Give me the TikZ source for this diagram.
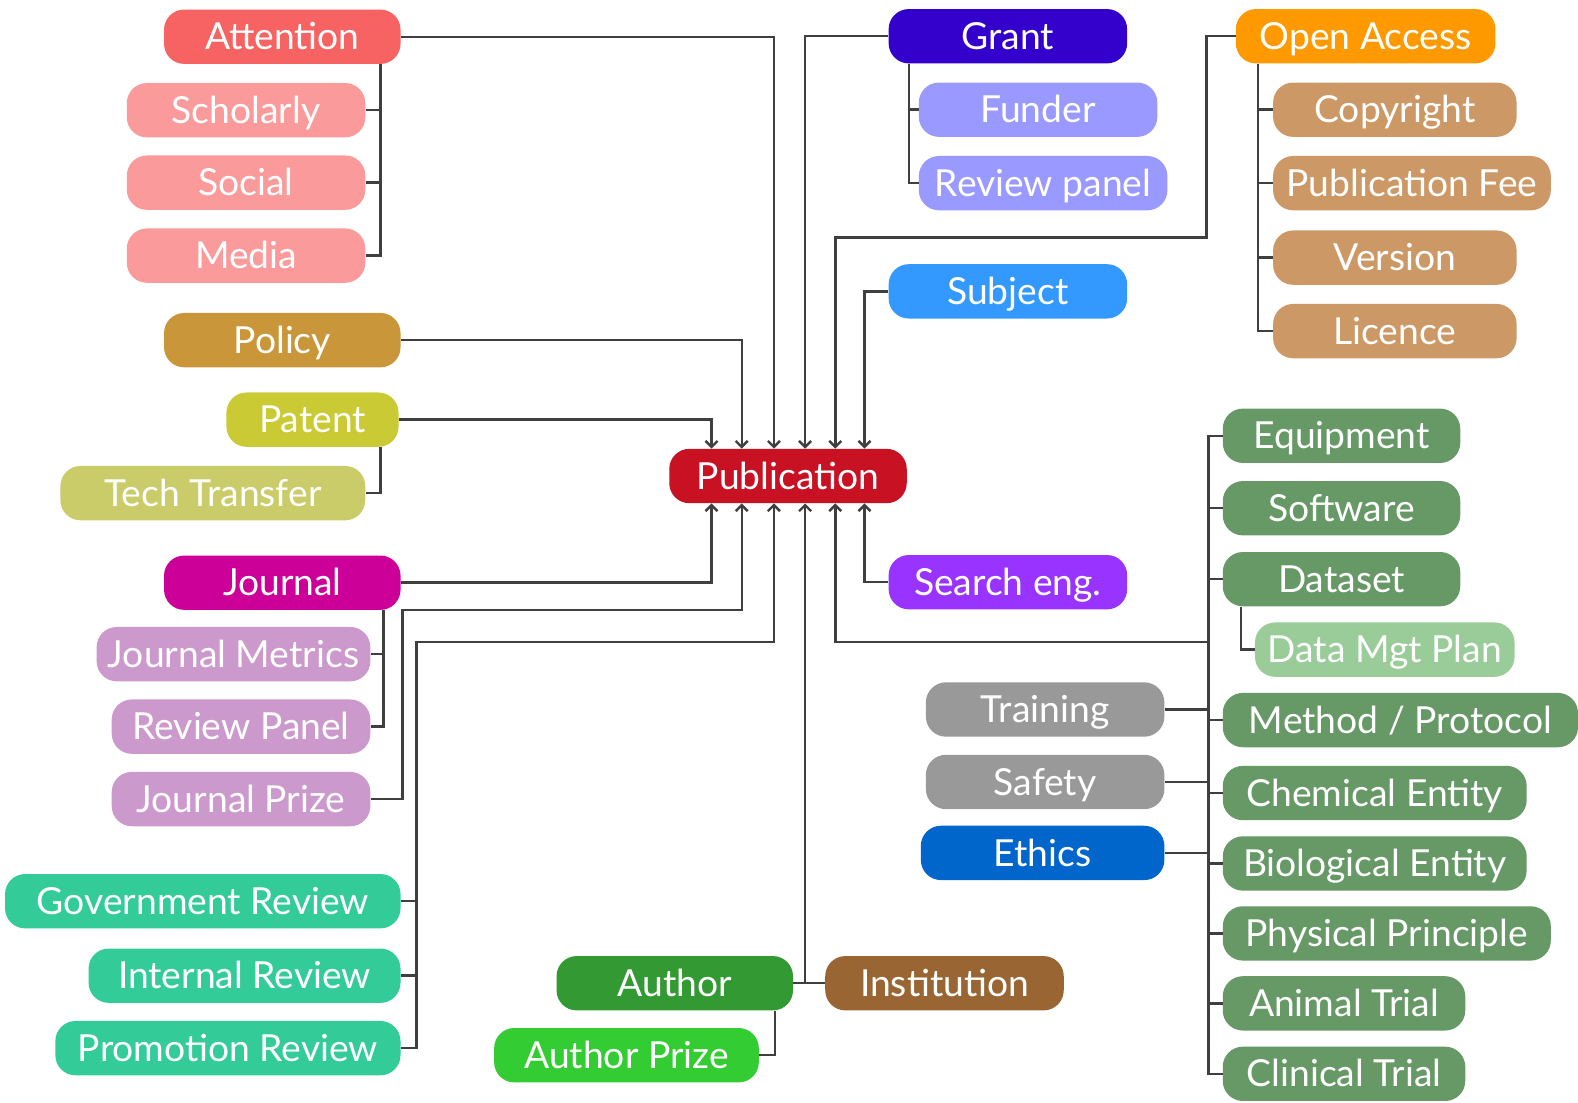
\documentclass[tikz,border=0pt]{standalone}
\usepackage{fontspec}
\setmainfont{Lato}
\usetikzlibrary{arrows.meta}
\definecolor{cAtt}{HTML}{F76363}
\definecolor{cAttL}{HTML}{FA9A9A}
\definecolor{cPol}{HTML}{C9963A}
\definecolor{cPat}{HTML}{CACA34}
\definecolor{cTech}{HTML}{CACC6A}
\definecolor{cJou}{HTML}{CC0099}
\definecolor{cJouL}{HTML}{CC99CC}
\definecolor{cRev}{HTML}{33CC99}
\definecolor{cPub}{HTML}{C81122}
\definecolor{cAuth}{HTML}{339933}
\definecolor{cAuthP}{HTML}{33CC33}
\definecolor{cInst}{HTML}{996633}
\definecolor{cGrant}{HTML}{3300CC}
\definecolor{cGrantL}{HTML}{9999FF}
\definecolor{cSubj}{HTML}{3399FF}
\definecolor{cOA}{HTML}{FF9900}
\definecolor{cOAL}{HTML}{CC9966}
\definecolor{cSrch}{HTML}{9933FF}
\definecolor{cSci}{HTML}{669966}
\definecolor{cSciL}{HTML}{99CC99}
\definecolor{cGrey}{HTML}{999999}
\definecolor{cEth}{HTML}{0066CC}
\definecolor{lncol}{HTML}{3F3F3F}
\begin{document}
\begin{tikzpicture}[x=1pt,y=-1pt,
  box/.style={rounded corners=20pt, minimum height=54pt, inner xsep=0pt, inner ysep=9pt,
    text height=31pt, text depth=5pt, text=white, font=\fontsize{37}{40}\selectfont},
  ln/.style={draw=lncol, line width=2.4pt},
  arr/.style={ln, -{Straight Barb[length=6pt,width=12pt]}}]
\path[fill=white] (0,0) rectangle (1568,1096);
\useasboundingbox (0,0) rectangle (1568,1096);
% left
\node[box,fill=cAtt,minimum width=235pt] (att) at (280.5,36.5) {Attention};
\node[box,fill=cAttL,minimum width=237pt] (sch) at (244.5,109.5) {Scholarly};
\node[box,fill=cAttL,minimum width=237pt] (soc) at (244.5,181.5) {Social};
\node[box,fill=cAttL,minimum width=237pt] (med) at (244.5,254) {Media};
\node[box,fill=cPol,minimum width=235pt] (pol) at (280.5,338) {Policy};
\node[box,fill=cPat,minimum width=171pt] (pat) at (310.5,417) {Patent};
\node[box,fill=cTech,minimum width=303pt] (tech) at (211.5,490) {Tech Transfer};
\node[box,fill=cJou,minimum width=235pt] (jou) at (280.5,579) {Journal};
\node[box,fill=cJouL,minimum width=272pt] (jm) at (232,650) {Journal Metrics};
\node[box,fill=cJouL,minimum width=257pt] (rp) at (239.5,722) {Review Panel};
\node[box,fill=cJouL,minimum width=257pt] (jp) at (239.5,794) {Journal Prize};
\node[box,fill=cRev,minimum width=393pt] (gov) at (201.5,895.5) {Government Review};
\node[box,fill=cRev,minimum width=310pt] (intr) at (243,969.5) {Internal Review};
\node[box,fill=cRev,minimum width=343pt] (prom) at (226.5,1041.5) {Promotion Review};
% centre
\node[box,fill=cPub,minimum width=236pt] (pub) at (783,473) {Publication};
\node[box,fill=cAuth,minimum width=235pt] (auth) at (670.5,977) {Author};
\node[box,fill=cAuthP,minimum width=263pt] (authp) at (622.5,1048.5) {Author Prize};
\node[box,fill=cInst,minimum width=237pt] (inst) at (938.5,977) {Institution};
% top right
\node[box,fill=cGrant,minimum width=237pt] (grant) at (1001.5,36) {Grant};
\node[box,fill=cGrantL,minimum width=237pt] (fund) at (1031.5,109) {Funder};
\node[box,fill=cGrantL,minimum width=247pt] (revp) at (1036.5,182) {Review panel};
\node[box,fill=cSubj,minimum width=237pt] (subj) at (1001.5,289.5) {Subject};
\node[box,fill=cOA,minimum width=258pt] (oa) at (1357,36) {Open Access};
\node[box,fill=cOAL,minimum width=242pt] (copy) at (1386,109) {Copyright};
\node[box,fill=cOAL,minimum width=276pt] (fee) at (1403,182) {Publication Fee};
\node[box,fill=cOAL,minimum width=242pt] (ver) at (1386,256) {Version};
\node[box,fill=cOAL,minimum width=242pt] (lic) at (1386,329) {Licence};
\node[box,fill=cSrch,minimum width=237pt] (srch) at (1001.5,578.5) {Search eng.};
% right
\node[box,fill=cSci,minimum width=236pt] (equip) at (1333,433) {Equipment};
\node[box,fill=cSci,minimum width=236pt] (soft) at (1333,505) {Software};
\node[box,fill=cSci,minimum width=236pt] (data) at (1333,575.5) {Dataset};
\node[box,fill=cSciL,minimum width=258pt] (dmp) at (1376,645.5) {Data Mgt Plan};
\node[box,fill=cSci,minimum width=353pt] (meth) at (1391.5,715.5) {Method / Protocol};
\node[box,fill=cSci,minimum width=302pt] (chem) at (1366,788) {Chemical Entity};
\node[box,fill=cSci,minimum width=302pt] (bio) at (1366,858) {Biological Entity};
\node[box,fill=cSci,minimum width=326pt] (phys) at (1378,927.5) {Physical Principle};
\node[box,fill=cSci,minimum width=241pt] (anim) at (1335.5,997) {Animal Trial};
\node[box,fill=cSci,minimum width=241pt] (clin) at (1335.5,1067) {Clinical Trial};
\node[box,fill=cGrey,minimum width=237pt] (train) at (1038.5,705) {Training};
\node[box,fill=cGrey,minimum width=237pt] (safe) at (1038.5,777) {Safety};
\node[box,fill=cEth,minimum width=242pt] (eth) at (1036,847.5) {Ethics};
% helper coordinates
\coordinate (X1) at (707,0);
\coordinate (X2) at (737,0);
\coordinate (X3) at (769,0);
\coordinate (X4) at (800,0);
\coordinate (X5) at (830,0);
\coordinate (X6) at (859,0);
\coordinate (aK) at (378,0);
\coordinate (jK) at (381,0);
\coordinate (jpK) at (400,606);
\coordinate (rK) at (414,0);
\coordinate (rJ) at (414,638);
\coordinate (gK) at (903,0);
\coordinate (oK) at (1250,0);
\coordinate (oJ) at (1199,236);
\coordinate (sK) at (1201,0);
\coordinate (sJ) at (1201,638);
\coordinate (dK) at (1233,0);
\coordinate (pK) at (770,0);
% connectors into Publication
\draw[arr] (att.east) -| (X3 |- pub.north);
\draw[arr] (pol.east) -| (X2 |- pub.north);
\draw[arr] (pat.east) -| (X1 |- pub.north);
\draw[arr] (grant.west) -| (X4 |- pub.north);
\draw[arr] (oa.west) -| (oJ) -| (X5 |- pub.north);
\draw[arr] (subj.west) -| (X6 |- pub.north);
\draw[arr] (jou.east) -| (X1 |- pub.south);
\draw[arr] (jp.east) -| (jpK) -| (X2 |- pub.south);
\draw[arr] (prom.east) -| (rJ) -| (X3 |- pub.south);
\draw[arr] (auth.east) -| (X4 |- pub.south);
\draw[arr] (sJ) -| (X5 |- pub.south);
\draw[arr] (srch.west) -| (X6 |- pub.south);
% sub-connectors
\draw[ln] (gov.east) -- (gov.east -| rK);
\draw[ln] (intr.east) -- (intr.east -| rK);
\draw[ln] (inst.west) -- (inst.west -| X4);
\draw[ln] (auth.south -| pK) |- (authp.east);
\draw[ln] (equip.west) -| (sK |- clin.west) -- (clin.west);
\foreach \n in {soft,data,meth,chem,bio,phys,anim} \draw[ln] (\n.west) -- (\n.west -| sK);
\foreach \n in {train,safe,eth} \draw[ln] (\n.east) -- (\n.east -| sK);
\draw[ln] (data.south -| dK) |- (dmp.west);
\draw[ln] (att.south -| aK) |- (med.east);
\foreach \n in {sch,soc} \draw[ln] (\n.east) -- (\n.east -| aK);
\draw[ln] (pat.south -| aK) |- (tech.east);
\draw[ln] (jou.south -| jK) |- (rp.east);
\draw[ln] (jm.east) -- (jm.east -| jK);
\draw[ln] (grant.south -| gK) |- (revp.west);
\draw[ln] (fund.west) -- (fund.west -| gK);
\draw[ln] (oa.south -| oK) |- (lic.west);
\foreach \n in {copy,fee,ver} \draw[ln] (\n.west) -- (\n.west -| oK);
\end{tikzpicture}
\end{document}
